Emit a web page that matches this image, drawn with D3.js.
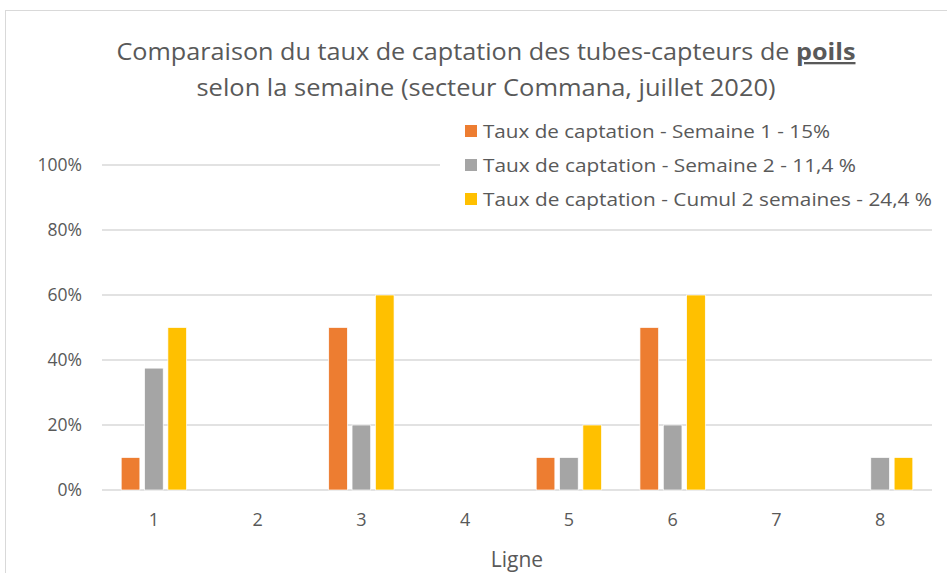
<!DOCTYPE html>
<html>
<head>
<meta charset="utf-8">
<script src="https://cdn.jsdelivr.net/npm/d3@7"></script>
<style>
  body { margin: 0; background: #fff; }
  text { font-family: "Open Sans", "Noto Sans", sans-serif; fill: #595959; }
</style>
</head>
<body>
<svg id="chart" width="947" height="573"></svg>
<script>
// donnees
var lignes = ['1', '2', '3', '4', '5', '6', '7', '8'];
var semaine1 = [0.10, 0, 0.50, 0, 0.10, 0.50, 0, 0];
var semaine2 = [0.375, 0, 0.20, 0, 0.10, 0.20, 0, 0.10];
var cumul = [0.50, 0, 0.60, 0, 0.20, 0.60, 0, 0.10];
var series = ['Taux de captation - Semaine 1 - 15%',
              'Taux de captation - Semaine 2 - 11,4 %',
              'Taux de captation - Cumul 2 semaines - 24,4 %'];
var legLongueurs = [347, 373, 449];
var couleurs = ['#ed7d31', '#a5a5a5', '#ffc000'];
var yTicks = [0, 0.2, 0.4, 0.6, 0.8, 1];

var svg = d3.select('#chart');
var margin = {left: 102, right: 15, top: 165, bottom: 83};
var W = 947, H = 573;

// cadre du graphique
svg.append('rect')
  .attr('x', 5.5).attr('y', 10.5)
  .attr('width', 950).attr('height', 600)
  .attr('fill', '#fff').attr('stroke', '#d9d9d9');

var x = d3.scaleBand().domain(lignes)
  .range([margin.left, W - margin.right])
  .paddingInner(0.37).paddingOuter(0.185);
var xs = d3.scaleBand().domain([0, 1, 2])
  .range([0, x.bandwidth()]).paddingInner(0.2);
var y = d3.scaleLinear().domain([0, 1]).range([H - margin.bottom, margin.top]);

// grille
svg.append('g').selectAll('line')
  .data(yTicks)
  .join('line')
  .attr('x1', margin.left).attr('x2', W - margin.right)
  .attr('y1', d => y(d)).attr('y2', d => y(d))
  .attr('stroke', '#d9d9d9').attr('stroke-width', 1.3);

var yAxis = svg.append('g')
  .attr('transform', 'translate(' + margin.left + ',0)')
  .call(d3.axisLeft(y).tickValues(yTicks).tickFormat(d3.format('.0%')).tickSize(0).tickPadding(20));
yAxis.select('.domain').remove();
yAxis.selectAll('text').style('font-size', '17.5px').attr('fill', '#595959');

var xAxis = svg.append('g')
  .attr('transform', 'translate(0,' + (H - margin.bottom) + ')')
  .call(d3.axisBottom(x).tickSize(0).tickPadding(23));
xAxis.select('.domain').remove();
xAxis.selectAll('text').style('font-size', '18px').attr('fill', '#595959');

var data = [semaine1, semaine2, cumul];
var groupes = svg.append('g').selectAll('g')
  .data(lignes)
  .join('g')
  .attr('transform', d => 'translate(' + x(d) + ',0)');

groupes.selectAll('rect')
  .data((d, i) => data.map((s, k) => ({k: k, v: s[i]})))
  .join('rect')
  .attr('x', d => xs(d.k))
  .attr('width', xs.bandwidth())
  .attr('y', d => y(d.v))
  .attr('height', d => y(0) - y(d.v))
  .attr('fill', d => couleurs[d.k])
  .attr('stroke', '#fff').attr('stroke-width', 0.7);

// titre
var titre = svg.append('text')
  .attr('x', 486).attr('y', 60)
  .attr('text-anchor', 'middle')
  .attr('textLength', 739).attr('lengthAdjust', 'spacingAndGlyphs')
  .style('font-size', '23px');
titre.append('tspan').text('Comparaison du taux de captation des tubes-capteurs de ');
titre.append('tspan').text('poils').style('font-weight', 'bold').style('text-decoration', 'underline');
svg.append('text')
  .attr('x', 486).attr('y', 96)
  .attr('text-anchor', 'middle')
  .attr('textLength', 579).attr('lengthAdjust', 'spacingAndGlyphs')
  .style('font-size', '23px')
  .text('selon la semaine (secteur Commana, juillet 2020)');

// legende
var leg = svg.append('g');
leg.append('rect')
  .attr('x', 440).attr('y', 112).attr('width', 496).attr('height', 104)
  .attr('fill', '#fff');
var items = leg.selectAll('g')
  .data(series)
  .join('g')
  .attr('transform', (d, i) => 'translate(465,' + (131 + i * 34) + ')');
items.append('rect')
  .attr('x', 0).attr('y', -6).attr('width', 12).attr('height', 12)
  .attr('fill', (d, i) => couleurs[i]);
items.append('text')
  .attr('x', 18).attr('y', 6.5)
  .attr('textLength', (d, i) => legLongueurs[i]).attr('lengthAdjust', 'spacingAndGlyphs')
  .style('font-size', '19px')
  .text(d => d);

svg.append('text')
  .attr('x', 517).attr('y', 567)
  .attr('text-anchor', 'middle')
  .style('font-size', '21px')
  .text('Ligne');
</script>
</body>
</html>
